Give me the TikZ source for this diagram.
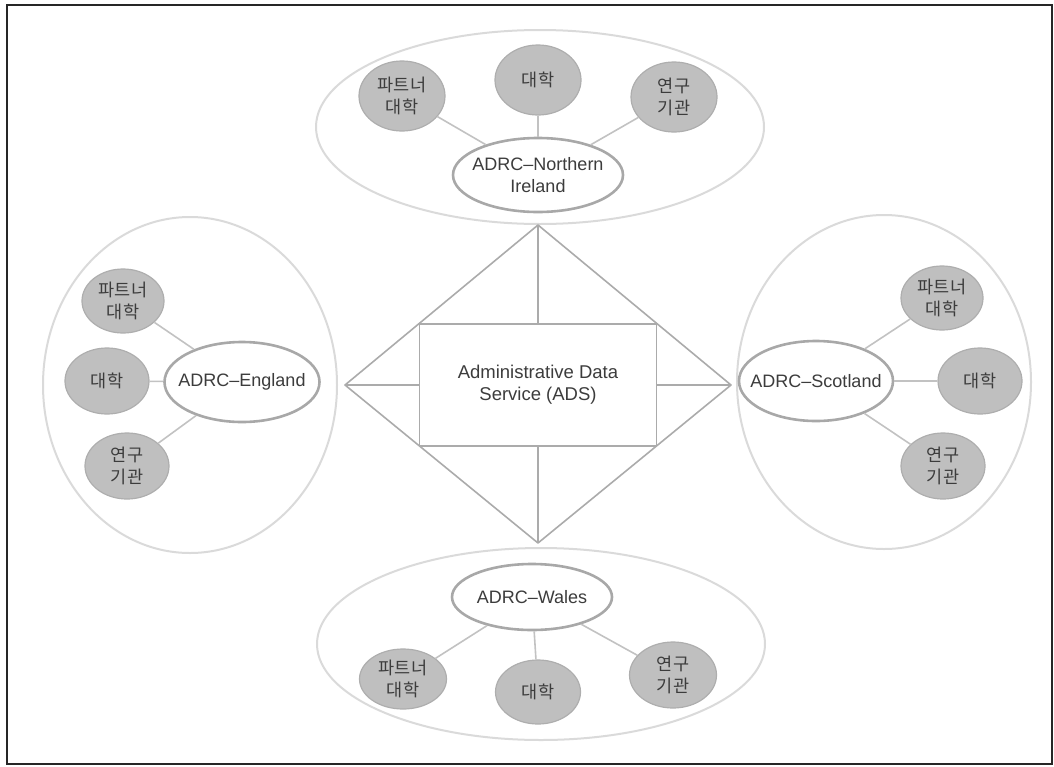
\documentclass[tikz,border=0pt]{standalone}
\usepackage{fontspec}
\setmainfont{Liberation Sans}
\newfontfamily\kr{Noto Sans CJK KR}
\usetikzlibrary{shapes.geometric}
\definecolor{txt}{HTML}{3C3C3C}
\definecolor{regionline}{HTML}{DADADA}
\definecolor{adrcline}{HTML}{A8A8A8}
\definecolor{orgfill}{HTML}{BFBFBF}
\definecolor{orgline}{HTML}{AEAEAE}
\definecolor{linkline}{HTML}{C2C2C2}
\definecolor{adsline}{HTML}{ABABAB}
\tikzset{
  region/.style={ellipse, draw=regionline, line width=2pt, inner sep=0pt},
  adrc/.style={ellipse, draw=adrcline, fill=white, line width=2.6pt, inner sep=0pt,
    label={[font=\fontsize{18}{22}\selectfont, text=txt, align=center]center:#1}},
  org/.style={ellipse, draw=orgline, fill=orgfill, line width=1.2pt, inner sep=0pt,
    minimum width=86pt, minimum height=70pt,
    label={[font=\kr\fontsize{17.5}{22}\selectfont, text=txt, align=center]center:#1}},
  link/.style={draw=linkline, line width=1.6pt},
  adsedge/.style={draw=adsline, line width=1.6pt},
}
\begin{document}
\begin{tikzpicture}[x=1pt,y=-1pt]
\useasboundingbox (0,0) rectangle (1054,766);
\draw[line width=2.2pt, black!85] (7,5) rectangle (1052,764);

% regions
\node[region, minimum width=448pt, minimum height=194pt] (rNI) at (540,127) {};
\node[region, minimum width=448pt, minimum height=192pt] (rW) at (541,644) {};
\node[region, minimum width=294pt, minimum height=336pt] (rE) at (190,385) {};
\node[region, minimum width=294pt, minimum height=334pt] (rS) at (884,382) {};

% ADS core
\coordinate (dT) at (538,225);
\coordinate (dB) at (538,543);
\coordinate (dL) at (345,385);
\coordinate (dR) at (731,385);
\node[draw=adsline, line width=1.6pt, minimum width=237pt, minimum height=122pt, inner sep=0pt,
  font=\fontsize{18.5}{22}\selectfont, text=txt, align=center] (ads) at (538,385)
  {Administrative Data\\Service (ADS)};
\draw[adsedge, line join=round] (dT) -- (dR) -- (dB) -- (dL) -- cycle;
\draw[adsedge] (dT) -- (ads.north);
\draw[adsedge] (dB) -- (ads.south);
\draw[adsedge] (dL) -- (ads.west);
\draw[adsedge] (dR) -- (ads.east);

% Northern Ireland
\node[adrc={ADRC–Northern\\Ireland}, minimum width=170pt, minimum height=74pt] (ni) at (538,175) {};
\node[org={파트너\\대학}] (niP) at (402,96) {};
\node[org={대학}] (niU) at (538,80) {};
\node[org={연구\\기관}] (niR) at (674,97) {};
\draw[link] (niP) -- (ni);
\draw[link] (niU) -- (ni);
\draw[link] (niR) -- (ni);

% England
\node[adrc={ADRC–England}, minimum width=155pt, minimum height=80pt] (en) at (242,382) {};
\node[org={파트너\\대학}, minimum width=82pt, minimum height=64pt] (enP) at (123,301) {};
\node[org={대학}, minimum width=84pt, minimum height=66pt] (enU) at (107,381) {};
\node[org={연구\\기관}, minimum width=84pt, minimum height=66pt] (enR) at (127,466) {};
\draw[link] (enP) -- (en);
\draw[link] (enU) -- (en);
\draw[link] (enR) -- (en);

% Scotland
\node[adrc={ADRC–Scotland}, minimum width=154pt, minimum height=80pt] (sc) at (816,381) {};
\node[org={파트너\\대학}, minimum width=82pt, minimum height=64pt] (scP) at (942,298) {};
\node[org={대학}, minimum width=84pt, minimum height=66pt] (scU) at (980,381) {};
\node[org={연구\\기관}, minimum width=84pt, minimum height=66pt] (scR) at (943,466) {};
\draw[link] (scP) -- (sc);
\draw[link] (scU) -- (sc);
\draw[link] (scR) -- (sc);

% Wales
\node[adrc={ADRC–Wales}, minimum width=160pt, minimum height=66pt] (wa) at (532,597) {};
\node[org={파트너\\대학}, minimum width=87pt, minimum height=60pt] (waP) at (403,679) {};
\node[org={대학}, minimum width=85pt, minimum height=64pt] (waU) at (538,692) {};
\node[org={연구\\기관}, minimum width=87pt, minimum height=66pt] (waR) at (673,675) {};
\draw[link] (waP) -- (wa);
\draw[link] (waU) -- (wa);
\draw[link] (waR) -- (wa);
\end{tikzpicture}
\end{document}
